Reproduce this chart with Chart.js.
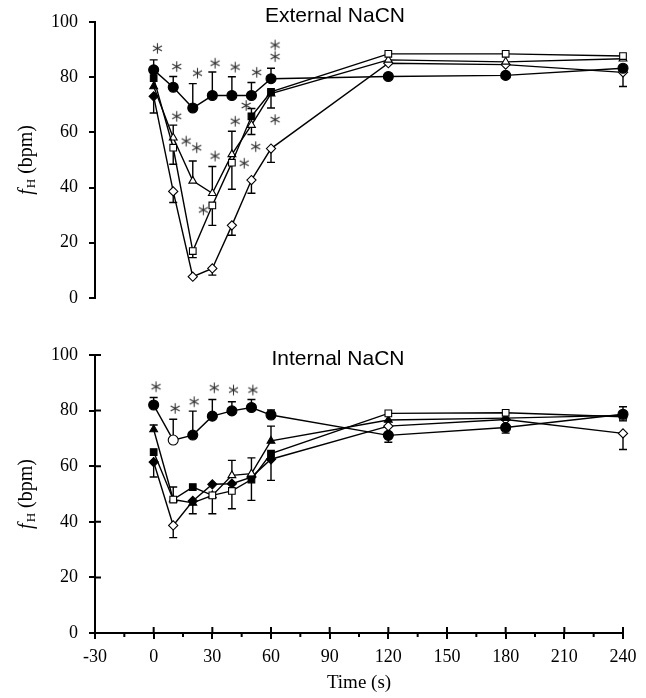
<!DOCTYPE html>
<html>
<head>
<meta charset="utf-8">
<script src="https://cdn.jsdelivr.net/npm/chart.js@4.4.1/dist/chart.umd.min.js"></script>
<style>
  body { margin: 0; background: #fff; }
  #wrap { position: relative; width: 646px; height: 698px; }
  .panel { position: absolute; left: 0; width: 646px; }
  #top { top: 0; height: 330px; }
  #bottom { top: 330px; height: 368px; }
</style>
</head>
<body>
<div id="wrap">
  <div class="panel" id="top"><canvas id="externalChart" width="646" height="330"></canvas></div>
  <div class="panel" id="bottom"><canvas id="internalChart" width="646" height="368"></canvas></div>
</div>
<script>
// Time points (s) and axis ticks
const times = [0, 10, 20, 30, 40, 50, 60, 120, 180, 240];
const xTicks = [-30, 0, 30, 60, 90, 120, 150, 180, 210, 240];
const xMinor = [-15, 15, 45, 75, 105, 135, 165, 195, 225];
const yTicks = [0, 20, 40, 60, 80, 100];

// External NaCN - heart rate (bpm), 1 = filled symbol (significant)
const extCircle = [82.6, 76.3, 68.8, 73.3, 73.3, 73.3, 79.4, 80.2, 80.6, 83.2];
const extCircleFill = [1, 1, 1, 1, 1, 1, 1, 1, 1, 1];
const extCircleErr = [3.6, 3.9, 8.8, 8.5, 6.8, 4.7, 3.8, 0, 0, 0];
const extSquare = [79.6, 54.4, 17.0, 33.5, 49.0, 65.8, 74.6, 88.4, 88.4, 87.6];
const extSquareFill = [1, 0, 0, 0, 0, 1, 1, 0, 0, 0];
const extSquareErr = [0, -6.0, -2.4, -7.2, -9.6, 2.8, -5.8, 0, 0, 0];
const extTriangle = [76.6, 58.0, 42.4, 37.9, 52.0, 62.6, 74.0, 86.2, 85.5, 86.6];
const extTriangleFill = [1, 0, 0, 0, 0, 0, 1, 0, 0, 0];
const extTriangleErr = [0, 4.6, 7.2, 9.7, 8.4, -3.4, 0, 0, 0, 0];
const extDiamond = [73.0, 38.6, 7.7, 10.7, 26.3, 42.7, 54.1, 85.0, 84.5, 81.7];
const extDiamondFill = [1, 0, 0, 0, 0, 0, 0, 0, 0, 0];
const extDiamondErr = [-6.0, -4.0, 0, -2.4, -3.6, -4.8, -5.0, 0, 0, -5.1];
const extStarX = [1.9, 11.8, 22.4, 31.4, 41.7, 52.7, 62.1, 62.1, 11.8, 16.6, 22.0, 31.4, 41.7, 47.3, 25.4, 46.3, 52.2, 62.1];
const extStarY = [90.4, 83.8, 81.4, 85.0, 83.6, 81.7, 91.6, 87.4, 65.8, 56.8, 54.4, 51.4, 64.0, 69.7, 31.9, 48.8, 54.8, 64.6];

// Internal NaCN
const intCircle = [82.0, 69.4, 71.2, 78.0, 79.9, 81.1, 78.4, 71.1, 73.9, 78.7];
const intCircleFill = [1, 0, 1, 1, 1, 1, 1, 1, 1, 1];
const intCircleErr = [2.7, 7.5, 8.6, 6.0, 3.3, 2.9, 1.8, -2.5, -2.0, 2.7];
const intSquare = [65.1, 48.0, 52.5, 49.5, 51.1, 55.2, 64.5, 79.0, 79.2, 77.8];
const intSquareFill = [1, 0, 1, 0, 0, 1, 1, 0, 0, 0];
const intSquareErr = [0, 0, 0, -6.6, -6.4, -7.5, 0, 0, 0, -1.5];
const intTriangle = [73.2, 48.0, 46.8, 49.5, 56.7, 57.3, 69.1, 76.6, 77.3, 78.3];
const intTriangleFill = [1, 0, 1, 0, 0, 0, 1, 1, 1, 1];
const intTriangleErr = [1.6, 4.5, -3.9, 0, 5.4, 5.7, 5.3, 0, 0, 0];
const intDiamond = [61.5, 38.7, 47.5, 53.5, 53.7, 56.1, 62.5, 74.4, 76.8, 71.8];
const intDiamondFill = [1, 0, 1, 1, 1, 1, 1, 0, 0, 0];
const intDiamondErr = [-5.4, -4.4, 0, 0, 0, 0, -7.6, 0, 0, -5.8];
const intStarX = [1.2, 11.0, 20.7, 31.0, 40.8, 50.7];
const intStarY = [88.6, 80.8, 83.2, 88.2, 87.4, 87.4];

// Six-spoke asterisk used as point style
function makeStar() {
    const c = document.createElement('canvas');
    c.width = 13; c.height = 13;
    const g = c.getContext('2d');
    g.strokeStyle = '#333';
    g.lineWidth = 1.1;
    g.beginPath();
    for (let k = 0; k < 3; k++) {
        const a = Math.PI / 2 + k * Math.PI / 3;
        g.moveTo(6.5 + 5.2 * Math.cos(a), 6.5 - 5.2 * Math.sin(a));
        g.lineTo(6.5 - 5.2 * Math.cos(a), 6.5 + 5.2 * Math.sin(a));
    }
    g.stroke();
    return c;
}
const starImg = makeStar();

function series(values, fills, errs, style, radius) {
    return {
        data: values.map((v, i) => ({ x: times[i], y: v })),
        borderColor: '#000',
        borderWidth: 1.4,
        pointStyle: style,
        pointRadius: radius,
        pointBackgroundColor: fills.map(f => f ? '#000' : '#fff'),
        pointBorderColor: '#000',
        pointBorderWidth: 1.1,
        tension: 0,
        clip: false,
        errs: errs
    };
}

function stars(xs, ys) {
    return {
        data: xs.map((x, i) => ({ x: x, y: ys[i] })),
        showLine: false,
        pointStyle: starImg,
        pointRadius: 6,
        clip: false
    };
}

// Error bars (one-sided) drawn under the markers
const errorBars = {
    id: 'errorBars',
    beforeDatasetsDraw(chart) {
        const ctx = chart.ctx;
        const xs = chart.scales.x, ys = chart.scales.y;
        ctx.save();
        ctx.strokeStyle = '#000';
        ctx.lineWidth = 1.4;
        chart.data.datasets.forEach(ds => {
            if (!ds.errs) return;
            ds.data.forEach((p, i) => {
                const e = ds.errs[i];
                if (!e) return;
                const px = xs.getPixelForValue(p.x);
                const py = ys.getPixelForValue(p.y);
                const pe = ys.getPixelForValue(p.y + e);
                ctx.beginPath();
                ctx.moveTo(px, py);
                ctx.lineTo(px, pe);
                ctx.moveTo(px - 4, pe);
                ctx.lineTo(px + 4, pe);
                ctx.stroke();
            });
        });
        ctx.restore();
    }
};

// Y axis title with italic f and subscript H, plus panel heading
function labelsPlugin(heading, hx, hy) {
    return {
        id: 'labels',
        afterDraw(chart) {
            const ctx = chart.ctx;
            const area = chart.chartArea;
            ctx.save();
            ctx.fillStyle = '#000';
            ctx.font = '21px "Liberation Sans", Arial, sans-serif';
            ctx.textAlign = 'center';
            ctx.textBaseline = 'middle';
            ctx.fillText(heading, hx, hy);

            const cy = (area.top + area.bottom) / 2;
            ctx.translate(27, cy);
            ctx.rotate(-Math.PI / 2);
            ctx.textAlign = 'left';
            ctx.textBaseline = 'middle';
            const fFont = 'italic 20px "Liberation Serif", serif';
            const hFont = '13px "Liberation Serif", serif';
            const rFont = '20px "Liberation Serif", serif';
            ctx.font = fFont; const wf = ctx.measureText('f').width + 1;
            ctx.font = hFont; const wh = ctx.measureText('H').width;
            ctx.font = rFont; const wr = ctx.measureText(' (bpm)').width;
            let x = -(wf + wh + wr) / 2;
            ctx.font = fFont; ctx.fillText('f', x, 0); x += wf;
            ctx.font = hFont; ctx.fillText('H', x, 5); x += wh;
            ctx.font = rFont; ctx.fillText(' (bpm)', x, 0);
            ctx.restore();
        }
    };
}

// Inner ticks and minor x ticks for the lower panel
const innerTicks = {
    id: 'innerTicks',
    afterDraw(chart) {
        const ctx = chart.ctx;
        const xs = chart.scales.x, ys = chart.scales.y;
        const area = chart.chartArea;
        ctx.save();
        ctx.strokeStyle = '#000';
        ctx.lineWidth = 2;
        ctx.beginPath();
        yTicks.forEach(v => {
            const py = ys.getPixelForValue(v);
            ctx.moveTo(area.left, py);
            ctx.lineTo(area.left + 6, py);
        });
        xTicks.forEach(v => {
            const px = xs.getPixelForValue(v);
            ctx.moveTo(px, area.bottom);
            ctx.lineTo(px, area.bottom - 6);
        });
        xMinor.forEach(v => {
            const px = xs.getPixelForValue(v);
            ctx.moveTo(px, area.bottom);
            ctx.lineTo(px, area.bottom + 4);
        });
        ctx.stroke();
        ctx.restore();
    }
};

const serif = { family: '"Liberation Serif", "Times New Roman", serif', size: 18 };

function yScale() {
    return {
        type: 'linear',
        min: 0,
        max: 100,
        afterBuildTicks: s => { s.ticks = yTicks.map(v => ({ value: v })); },
        afterFit: s => { s.width = 95; },
        ticks: { color: '#000', padding: 11, font: serif },
        grid: { drawOnChartArea: false, drawTicks: true, tickLength: 6, color: '#000', lineWidth: 2 },
        border: { display: true, color: '#000', width: 2 }
    };
}

function makeChart(id, datasets, plugins, xOpts, padding) {
    return new Chart(document.getElementById(id).getContext('2d'), {
        type: 'line',
        data: { datasets: datasets },
        options: {
            responsive: false,
            animation: false,
            events: [],
            layout: { padding: padding },
            plugins: { legend: { display: false }, tooltip: { enabled: false } },
            scales: { x: xOpts, y: yScale() }
        },
        plugins: plugins
    });
}

// External NaCN panel (no x axis)
const externalChart = makeChart('externalChart', [
    stars(extStarX, extStarY),
    series(extCircle, extCircleFill, extCircleErr, 'circle', 5),
    series(extSquare, extSquareFill, extSquareErr, 'rect', 4.7),
    series(extTriangle, extTriangleFill, extTriangleErr, 'triangle', 4.5),
    series(extDiamond, extDiamondFill, extDiamondErr, 'rectRot', 4.6)
], [errorBars, labelsPlugin('External NaCN', 335, 16)], {
    type: 'linear', min: -30, max: 240, display: false
}, { left: 0, right: 23, top: 20, bottom: 32 });

// Internal NaCN panel
const internalChart = makeChart('internalChart', [
    stars(intStarX, intStarY),
    series(intCircle, intCircleFill, intCircleErr, 'circle', 5),
    series(intSquare, intSquareFill, intSquareErr, 'rect', 4.7),
    series(intTriangle, intTriangleFill, intTriangleErr, 'triangle', 4.5),
    series(intDiamond, intDiamondFill, intDiamondErr, 'rectRot', 4.6)
], [errorBars, innerTicks, labelsPlugin('Internal NaCN', 338, 29)], {
    type: 'linear',
    min: -30,
    max: 240,
    afterBuildTicks: s => { s.ticks = xTicks.map(v => ({ value: v })); },
    afterFit: s => { s.height = 65; },
    ticks: { color: '#000', padding: 7, font: serif, maxRotation: 0 },
    grid: { drawOnChartArea: false, drawTicks: true, tickLength: 6, color: '#000', lineWidth: 2 },
    border: { display: true, color: '#000', width: 2 },
    title: { display: true, text: 'Time (s)', color: '#000', font: { family: serif.family, size: 19 }, padding: { top: 0, bottom: 4 } }
}, { left: 0, right: 23, top: 25, bottom: 0 });
</script>
</body>
</html>
